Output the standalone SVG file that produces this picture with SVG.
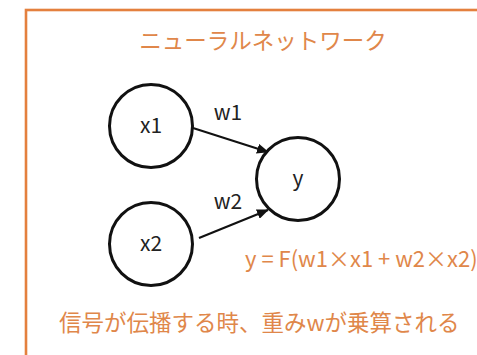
<svg xmlns="http://www.w3.org/2000/svg" width="477" height="355" viewBox="0 0 477 355">
  <style>
    .frame { fill: #ffffff; stroke: #E4803E; stroke-width: 2.6; }
    .node circle { fill: #ffffff; stroke: #111111; stroke-width: 3; }
    .node text, .wlabel { font-family: "Noto Sans CJK JP", "Noto Sans", sans-serif; font-size: 21px; fill: #222222; text-anchor: middle; }
    .note { font-family: "Noto Sans CJK JP", "Noto Sans", sans-serif; fill: #E0874A; }
    .edge { stroke: #111111; stroke-width: 2.2; fill: none; marker-end: url(#arrow); }
  </style>
  <defs>
    <marker id="arrow" viewBox="0 0 12 10" refX="11" refY="5" markerWidth="12" markerHeight="10" markerUnits="userSpaceOnUse" orient="auto">
      <path d="M0,0 L12,5 L0,10 Z" fill="#111111"/>
    </marker>
  </defs>

  <rect width="477" height="355" fill="#ffffff"/>
  <rect class="frame" x="26" y="10" width="470" height="360"/>

  <text class="note" x="263" y="49" font-size="22.5" text-anchor="middle">ニューラルネットワーク</text>

  <g id="connectors">
    <line class="edge" x1="193" y1="128" x2="268" y2="152"/>
    <line class="edge" x1="199" y1="238" x2="268" y2="210"/>
    <text class="wlabel" x="228" y="120">w1</text>
    <text class="wlabel" x="228" y="209">w2</text>
  </g>

  <g id="node-x1" class="node">
    <circle cx="151" cy="126" r="41.5"/>
    <text x="151" y="133">x1</text>
  </g>
  <g id="node-x2" class="node">
    <circle cx="151" cy="244" r="41.5"/>
    <text x="151" y="251">x2</text>
  </g>
  <g id="node-y" class="node">
    <circle cx="298" cy="179" r="41.5"/>
    <text x="298" y="186">y</text>
  </g>

  <text class="note" x="245" y="267" font-size="22">y = F(w1×x1 + w2×x2)</text>
  <text class="note" x="59" y="331" font-size="22.5">信号が伝播する時、重みwが乗算される</text>
</svg>
